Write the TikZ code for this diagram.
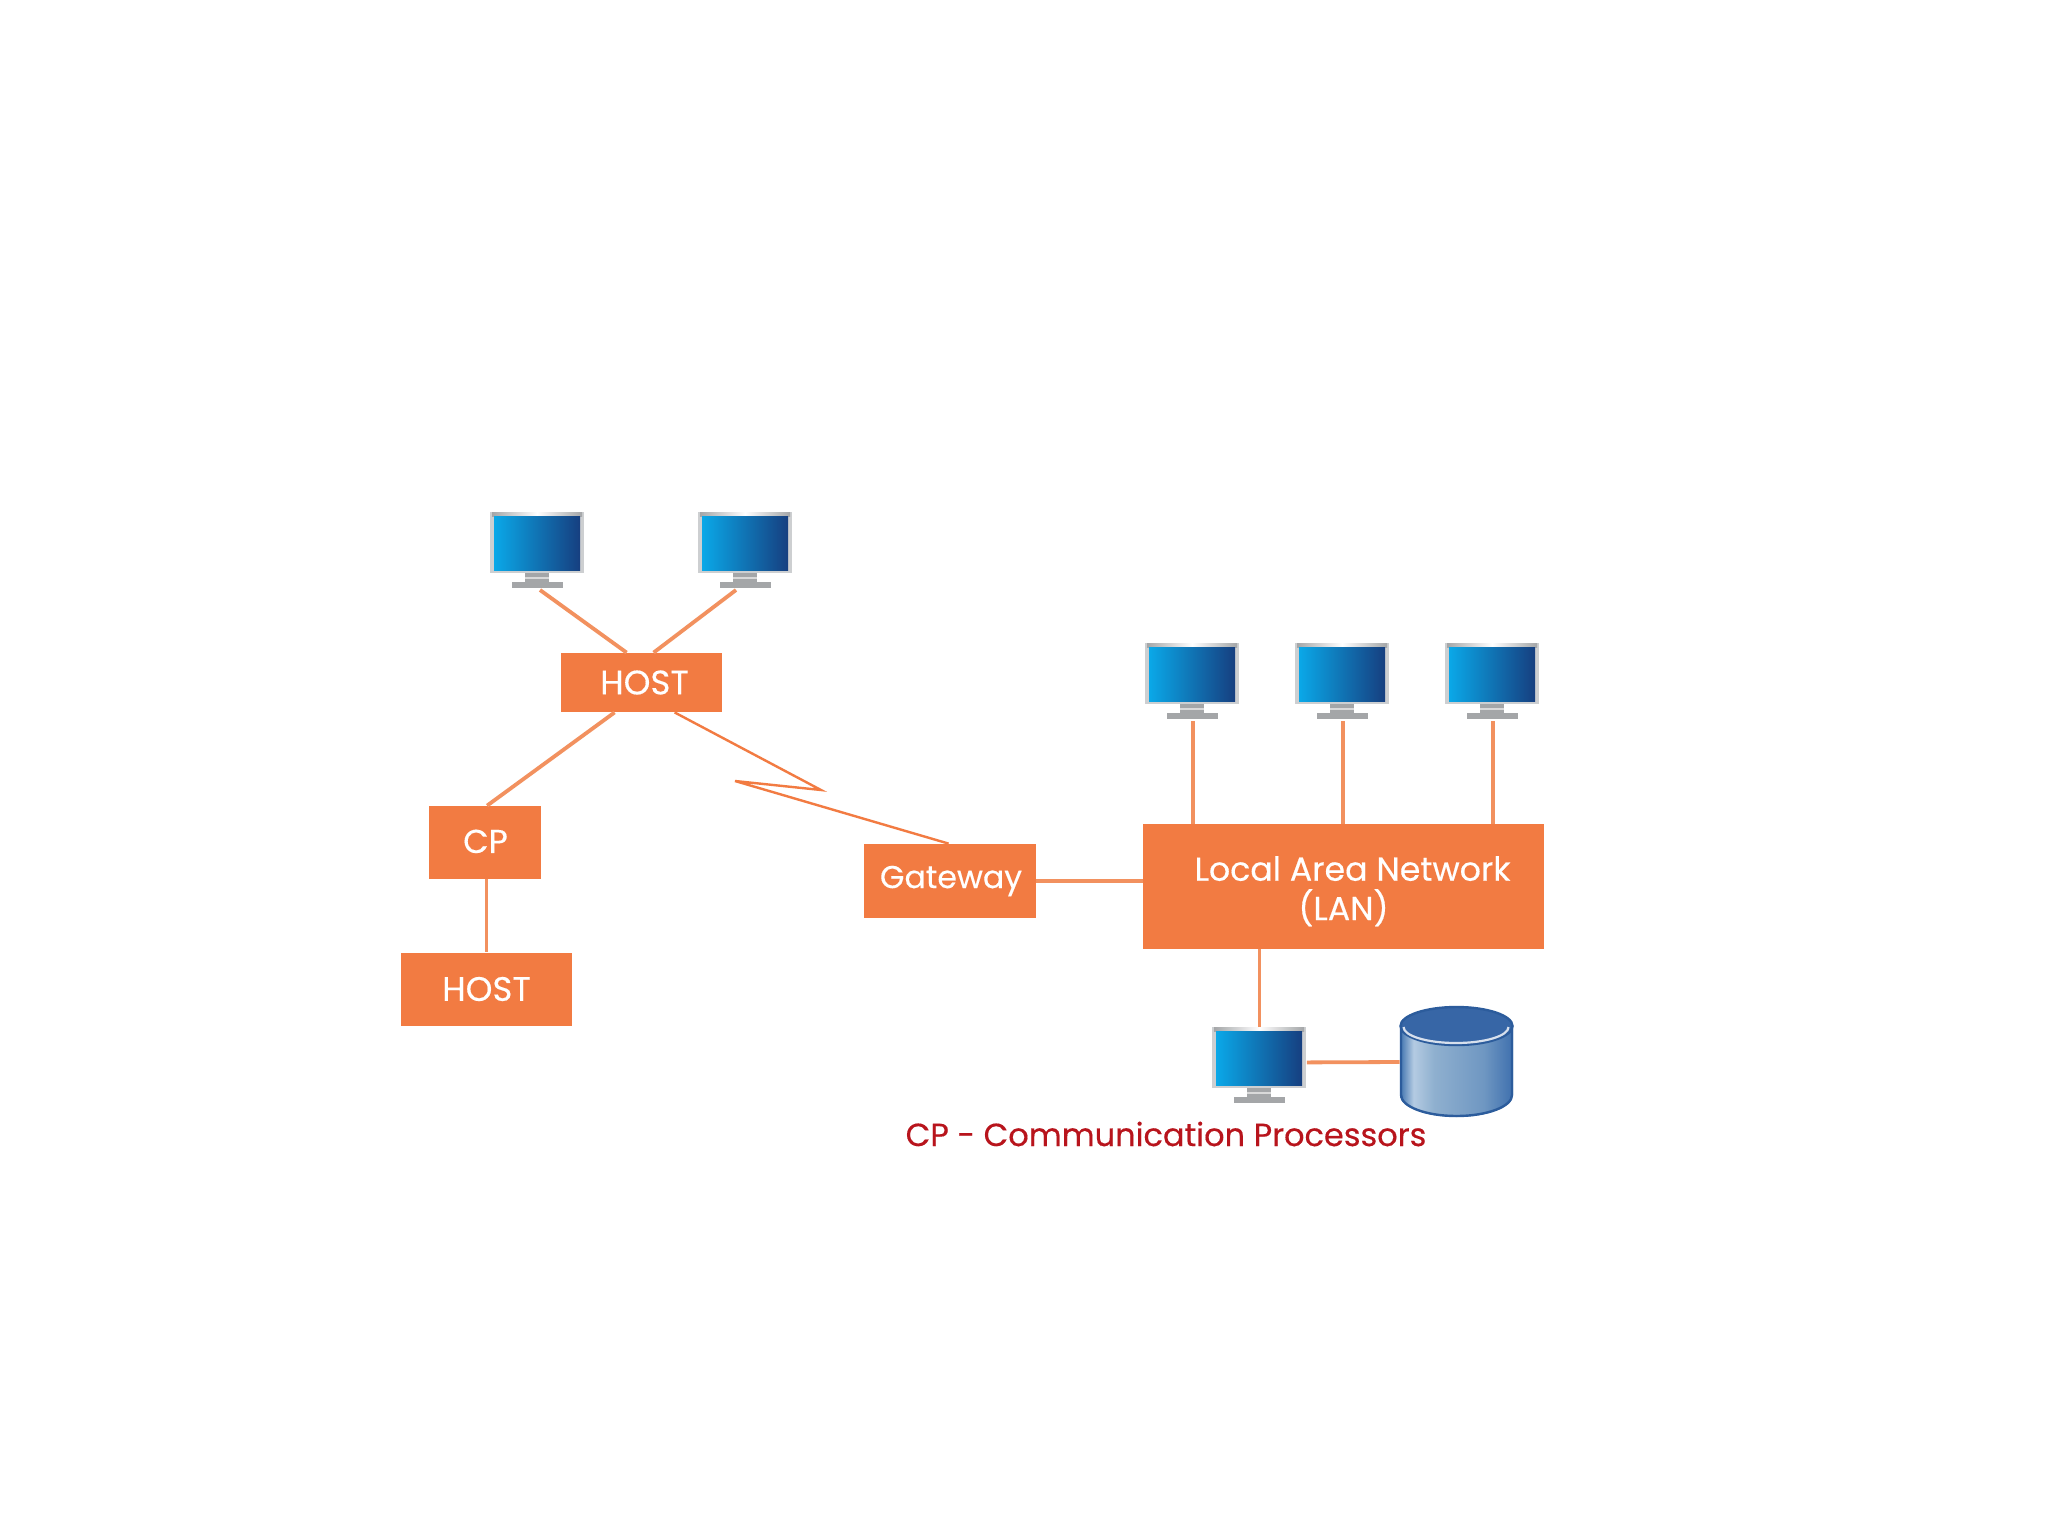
\documentclass[tikz,border=0pt]{standalone}
\usepackage{fontspec}
\setmainfont{Poppins}[FakeBold=0.35]
\usetikzlibrary{calc}
\definecolor{boxor}{HTML}{F27B42}
\definecolor{lineor}{HTML}{F2915F}
\definecolor{capred}{HTML}{B8141C}
\definecolor{scrL}{HTML}{0AA8E8}
\definecolor{scrM}{HTML}{1272AE}
\definecolor{scrR}{HTML}{163F80}
\definecolor{silver}{HTML}{CDCFD1}
\definecolor{standg}{HTML}{A4A6A8}
\definecolor{dbtop}{HTML}{3766A6}
\definecolor{dbedge}{HTML}{2C5C9C}
\definecolor{dbA}{HTML}{3F73AF}
\definecolor{dbB}{HTML}{B4CBE2}
\definecolor{dbC}{HTML}{8FB0CF}
\definecolor{dbD}{HTML}{6F97C2}
\definecolor{dbE}{HTML}{3F70AE}
\pgfdeclarehorizontalshading{dbbody}{100bp}{
  color(0bp)=(dbA); color(25bp)=(dbA); color(31bp)=(dbB); color(40bp)=(dbC); color(62bp)=(dbD); color(75bp)=(dbE); color(100bp)=(dbE)}
\tikzset{
  x=0.5pt,y=-0.5pt,
  orbox/.style={draw=none,fill=boxor,text=white,inner sep=0pt,align=center},
  link/.style={draw=lineor,line width=1.9pt},
  zig/.style={draw=boxor,line width=1.2pt,line join=miter},
  monitor/.pic={
    \fill[silver] (0,0) rectangle (94,61);
    \shade[left color=standg,right color=standg,middle color=white] (2,0) rectangle (92,4);
    \shade[left color=scrL,middle color=scrM,right color=scrR] (4,4) rectangle (90,58);
    \fill[standg] (35,61) rectangle (59,71);
    \fill[white!85!black] (35,65) rectangle (59,67);
    \fill[standg] (22,70) rectangle (73,76);
    \node[inner sep=0pt,minimum width=47pt,minimum height=35pt,anchor=north west] (-box) at (0,0) {};
    \coordinate (-base) at (47,78);
  },
}
\begin{document}
\begin{tikzpicture}
\useasboundingbox (0,0) rectangle (2048,1536);
\fill[white] (0,0) rectangle (2048,1536);
% monitors
\pic (m1) at (490,512) {monitor};
\pic (m2) at (698,512) {monitor};
\pic (m3) at (1145,643) {monitor};
\pic (m4) at (1295,643) {monitor};
\pic (m5) at (1445,643) {monitor};
\pic (m6) at (1212,1027) {monitor};
% boxes
\node[orbox,minimum width=80.5pt,minimum height=29.5pt,font=\fontsize{17}{20}\selectfont] (host) at (641.5,682.5) {\hspace*{3pt}\raisebox{-.6pt}{HOST}};
\node[orbox,minimum width=56pt,minimum height=36.5pt,font=\fontsize{16.5}{20}\selectfont] (cp) at (484.5,842.5) {\hspace*{1pt}\raisebox{1.2pt}{CP}};
\node[orbox,minimum width=85.5pt,minimum height=36.5pt,font=\fontsize{17}{20}\selectfont] (hostb) at (486.5,989) {\raisebox{-1.6pt}{HOST}};
\node[orbox,minimum width=86pt,minimum height=37pt,font=\fontsize{15.8}{20}\selectfont] (gw) at (950,881) {\hspace*{1pt}\raisebox{-1.5pt}{Gateway}};
\node[orbox,minimum width=200.5pt,minimum height=62.5pt,font=\fontsize{16.6}{19.7}\selectfont] (lan) at (1343.5,886.5) {\hspace*{9pt}\rule{0pt}{17pt}Local Area Network\\(LAN)};
% database
\node[inner sep=0pt,minimum width=56.5pt,minimum height=55pt] (db) at (1456.5,1062) {};
\shade[shading=dbbody]
  (1400,1026) -- (1400,1095) arc[start angle=180,end angle=0,x radius=56.5,y radius=22] -- (1513,1026) -- cycle;
\draw[dbedge,line width=1.2pt] (1401,1026) -- (1401,1095) arc[start angle=180,end angle=0,x radius=55.5,y radius=21] -- (1512,1026);
\fill[dbtop] (1456.5,1026) ellipse[x radius=56.5,y radius=19.5];
\draw[dbedge,line width=1.2pt] (1456.5,1026) ellipse[x radius=56,y radius=19];
\draw[white!80!dbtop,line width=1.1pt] (1403.5,1027) arc[start angle=180,end angle=0,x radius=52.5,y radius=16];
% connectors
\draw[link] ([xshift=1.5pt]m1-base) -- ([xshift=33pt]host.north west);
\draw[link] ([xshift=-4.5pt]m2-base) -- ([xshift=46.5pt]host.north west);
\draw[link] ([xshift=27pt]host.south west) -- ([xshift=29.5pt]cp.north west);
\draw[link] (cp.south -| hostb.north) -- (hostb.north);
\coordinate (z1) at (821,790);
\coordinate (z2) at (735,781);
\draw[zig] ([xshift=57pt]host.south west) -- (z1) -- (z2) -- ([xshift=42.5pt]gw.north west);
\draw[link] (gw.east) -- (gw.east -| lan.west);
\draw[link] ([xshift=.5pt]m3-base) -- ([xshift=.5pt]m3-base |- lan.north);
\draw[link] ([xshift=.5pt]m4-base) -- ([xshift=.5pt]m4-base |- lan.north);
\draw[link] ([xshift=.5pt]m5-base) -- ([xshift=.5pt]m5-base |- lan.north);
\draw[link] (m6-box.north) -- (m6-box.north |- lan.south);
\draw[link] (m6-box.east) -- (db.west);
\node[text=capred,inner sep=0pt,font=\fontsize{16}{19}\selectfont] (cap) at (1166,1134) {CP - Communication Processors};
\end{tikzpicture}
\end{document}
